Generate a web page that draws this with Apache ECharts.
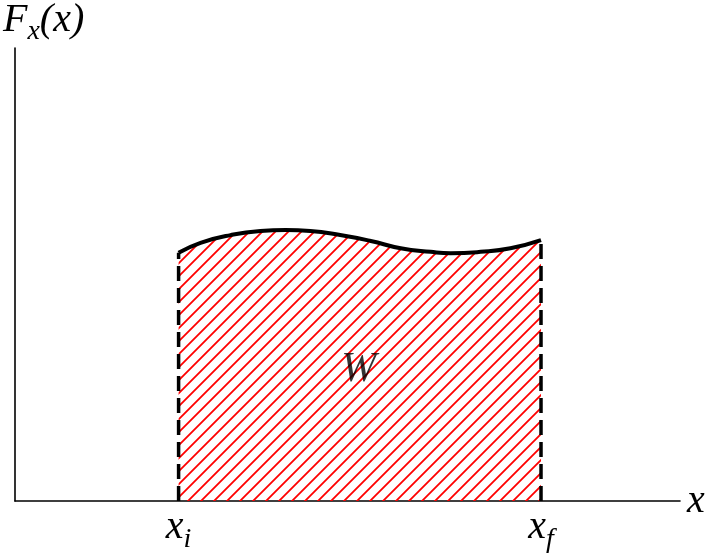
<!DOCTYPE html>
<html>
<head>
<meta charset="utf-8">
<script src="https://cdn.jsdelivr.net/npm/echarts@6/dist/echarts.min.js"></script>
<style>html,body{margin:0;padding:0;background:#fff}#c{width:713px;height:554px}</style>
</head>
<body>
<div id="c"></div>
<script>
// Data (arbitrary units, axis 0..10)
var curveX = [2.46, 2.79, 3.24, 3.69, 4.07, 4.44, 4.89, 5.35, 5.80, 6.25, 6.55, 7.00, 7.45, 7.91];
var curveY = [5.48, 5.70, 5.87, 5.96, 5.98, 5.96, 5.87, 5.74, 5.58, 5.50, 5.47, 5.50, 5.58, 5.76];
var xi = 2.46, xf = 7.91;
var boundLabels = ['x_i', 'x_f'];
var areaLabel = 'W';
var areaLabelPos = [5.17, 2.89];

var curve = curveX.map(function (x, i) { return [x, curveY[i]]; });

// hatch pattern
var tile = 13;
var cv = document.createElement('canvas');
cv.width = tile; cv.height = tile;
var g = cv.getContext('2d');
g.strokeStyle = '#ff0000';
g.lineWidth = 1.8;
g.beginPath();
g.moveTo(0, tile); g.lineTo(tile, 0);
g.moveTo(-2, 2); g.lineTo(2, -2);
g.moveTo(tile - 2, tile + 2); g.lineTo(tile + 2, tile - 2);
g.stroke();

var serif = 'Liberation Serif';
var chart = echarts.init(document.getElementById('c'));
chart.setOption({
  animation: false,
  textStyle: { fontFamily: serif },
  grid: { left: 14, right: 33, top: 48, bottom: 53 },
  xAxis: {
    type: 'value', min: 0, max: 10,
    name: 'x', nameLocation: 'end', nameGap: 7,
    nameTextStyle: { fontFamily: serif, fontStyle: 'italic', fontSize: 40, color: '#000', verticalAlign: 'middle', padding: [0, 0, 4, 0] },
    axisLine: { lineStyle: { color: '#000', width: 1.6 } },
    axisTick: { show: false },
    splitLine: { show: false },
    axisLabel: {
      customValues: [xi, xf],
      margin: 6,
      formatter: function (v) {
        var s = Math.abs(v - xi) < 1e-6 ? boundLabels[0] : boundLabels[1];
        var p = s.split('_');
        return '{m|' + p[0] + '}{s|' + p[1] + '}';
      },
      rich: {
        m: { fontFamily: serif, fontStyle: 'italic', fontSize: 40, color: '#000', lineHeight: 40, verticalAlign: 'top' },
        s: { fontFamily: serif, fontStyle: 'italic', fontSize: 28, color: '#000', lineHeight: 28, verticalAlign: 'top', padding: [19, 0, 0, 0] }
      }
    }
  },
  yAxis: {
    type: 'value', min: 0, max: 10,
    name: '{m|F}{s|x}{m|(x)}', nameLocation: 'end', nameGap: 8,
    nameTextStyle: {
      align: 'left', padding: [0, 0, 0, -12],
      rich: {
        m: { fontFamily: serif, fontStyle: 'italic', fontSize: 40, color: '#000', lineHeight: 40, verticalAlign: 'top' },
        s: { fontFamily: serif, fontStyle: 'italic', fontSize: 28, color: '#000', lineHeight: 28, verticalAlign: 'top', padding: [18, 0, 0, 0] }
      }
    },
    axisLine: { show: true, lineStyle: { color: '#000', width: 1.6 } },
    axisTick: { show: false },
    axisLabel: { show: false },
    splitLine: { show: false }
  },
  series: [
    {
      type: 'line', data: curve, smooth: true, symbol: 'none',
      lineStyle: { color: '#000', width: 4 },
      areaStyle: { color: { image: cv, repeat: 'repeat' }, opacity: 1 },
      z: 3
    },
    {
      type: 'line', data: [[xi, 0], [xi, curveY[0]]], symbol: 'none',
      lineStyle: { color: '#000', width: 3.5, type: [15, 7] }, z: 4
    },
    {
      type: 'line', data: [[xf, 0], [xf, curveY[curveY.length - 1]]], symbol: 'none',
      lineStyle: { color: '#000', width: 3.5, type: [15, 7] }, z: 4
    },
    {
      type: 'scatter', data: [areaLabelPos], symbolSize: 0,
      label: { show: true, position: 'inside', formatter: areaLabel, fontFamily: serif, fontStyle: 'italic', fontSize: 42, color: '#000' },
      z: 5
    }
  ]
});
</script>
</body>
</html>
